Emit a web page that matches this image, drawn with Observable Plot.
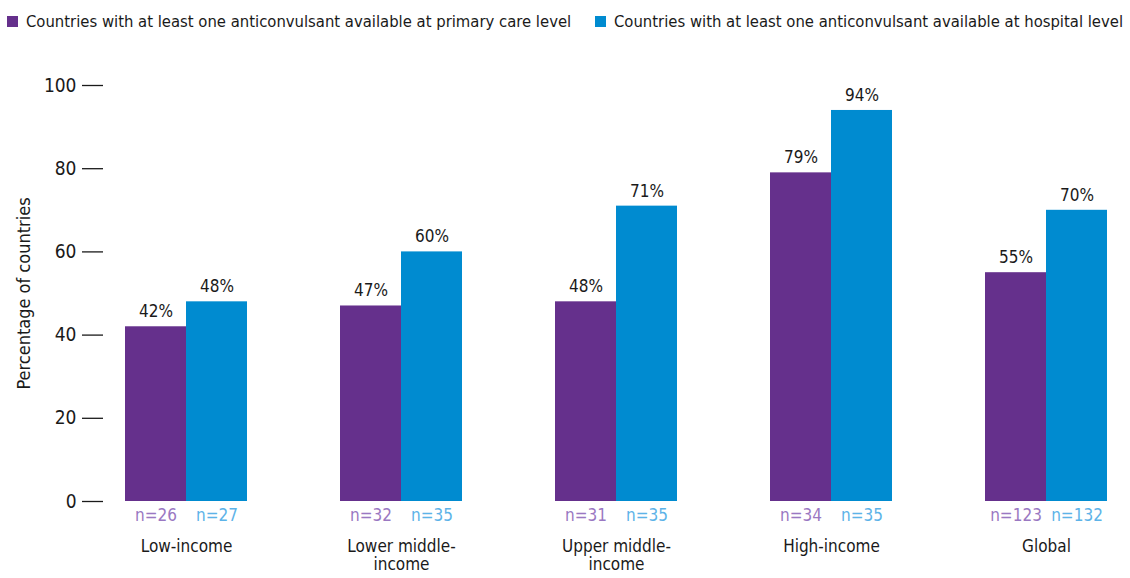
<!DOCTYPE html>
<html>
<head>
<meta charset="utf-8">
<script src="https://cdn.jsdelivr.net/npm/d3@7"></script>
<script src="https://cdn.jsdelivr.net/npm/@observablehq/plot@0.6"></script>
<style>
  html, body { margin: 0; padding: 0; background: #fff; }
  body { width: 1130px; height: 578px; overflow: hidden; font-family: "DejaVu Sans Condensed", "Roboto", sans-serif; }
  #legend { position: relative; height: 40px; font-size: 16.5px; color: #1a1a1a; }
  .item { position: absolute; top: 12px; display: flex; align-items: center; white-space: nowrap; }
  .sw { width: 11px; height: 11px; margin-right: 8px; }
</style>
</head>
<body>
<div id="legend"></div>
<div id="chart"></div>
<script>
const categories = ["Low-income", "Lower middle-income", "Upper middle-income", "High-income", "Global"];
const categoryLabels = ["Low-income", "Lower middle-\nincome", "Upper middle-\nincome", "High-income", "Global"];
const seriesNames = [
  "Countries with at least one anticonvulsant available at primary care level",
  "Countries with at least one anticonvulsant available at hospital level"
];
const primaryValues = [42, 47, 48, 79, 55];
const hospitalValues = [48, 60, 71, 94, 70];
const primaryN = [26, 32, 31, 34, 123];
const hospitalN = [27, 35, 35, 35, 132];
const yTicks = [0, 20, 40, 60, 80, 100];
const colors = ["#65308c", "#008bd0"];
const nColors = ["#9a78c2", "#5db3e8"];

const data = [];
categories.forEach((c, i) => {
  data.push({cat: c, series: seriesNames[0], value: primaryValues[i], n: primaryN[i], si: 0});
  data.push({cat: c, series: seriesNames[1], value: hospitalValues[i], n: hospitalN[i], si: 1});
});

// legend
const legend = document.getElementById("legend");
const legendX = [7, 595];
seriesNames.forEach((s, i) => {
  const it = document.createElement("div");
  it.className = "item";
  it.style.left = legendX[i] + "px";
  it.innerHTML = `<span class="sw" style="background:${colors[i]}"></span><span>${s}</span>`;
  legend.appendChild(it);
});

const labelOf = Object.fromEntries(categories.map((c, i) => [c, categoryLabels[i]]));

const chart = Plot.plot({
  width: 1130,
  height: 538,
  marginTop: 45,
  marginBottom: 77,
  marginLeft: 124,
  marginRight: 22,
  style: {fontFamily: '"DejaVu Sans Condensed", "Roboto", sans-serif', color: "#1a1a1a", background: "#fff"},
  fx: {domain: categories, paddingInner: 0.434, paddingOuter: 0, label: null, axis: null},
  x: {domain: seriesNames, padding: 0, axis: null},
  y: {domain: [0, 100], axis: null},
  color: {domain: seriesNames, range: colors},
  marks: [
    Plot.barY(data, {fx: "cat", x: "series", y: "value", fill: "series", inset: 0}),
    Plot.text(data, {fx: "cat", x: "series", y: "value", text: d => d.value + "%", dy: -15, fontSize: 17, fill: "#1a1a1a"}),
    Plot.text(data, {fx: "cat", x: "series", frameAnchor: "bottom", text: d => "n=" + d.n, dy: 19, fontSize: 17, fill: d => nColors[d.si]}),
    Plot.axisY({ticks: yTicks, tickSize: 21, tickPadding: 6, dx: -22, fontSize: 19, label: null, stroke: "#1a1a1a", strokeWidth: 1.3}),
    Plot.axisFx({anchor: "bottom", tickSize: 0, tickPadding: 37, fontSize: 17, label: null, tickFormat: c => labelOf[c], lineHeight: 1.1}),
    Plot.text([{cat: categories[0]}], {fx: "cat", text: () => "Percentage of countries", frameAnchor: "left", textAnchor: "middle", rotate: -90, dx: -101, dy: 0, fontSize: 18, fill: "#1a1a1a"})
  ]
});
document.getElementById("chart").appendChild(chart);
</script>
</body>
</html>
